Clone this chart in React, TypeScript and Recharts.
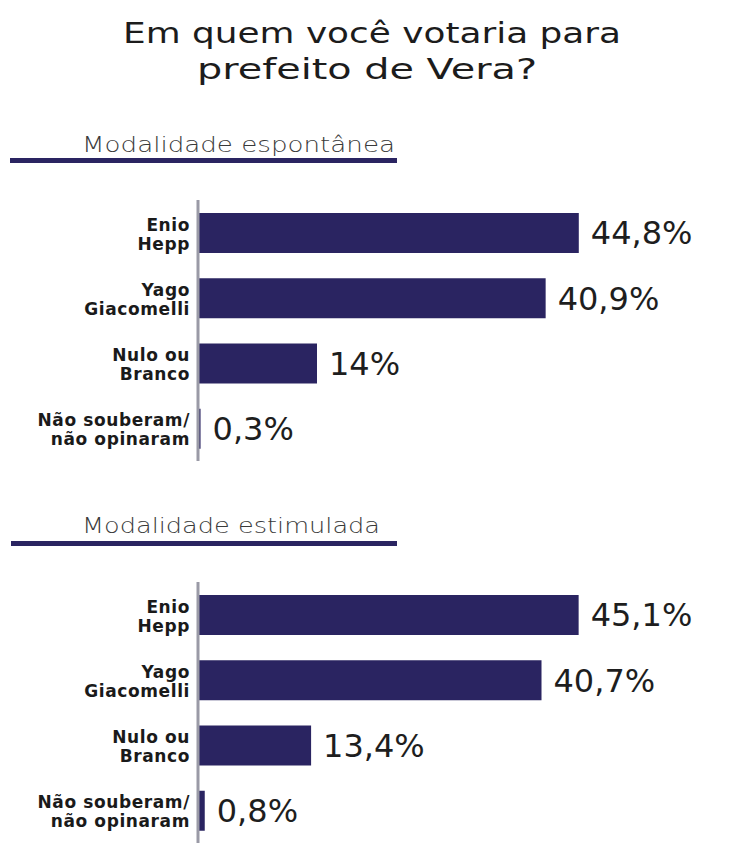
import React from 'react'
import { BarChart, Bar, XAxis, YAxis, LabelList } from 'recharts'

// categorias (quebra de linha com \n)
const categorias = ['Enio\nHepp', 'Yago\nGiacomelli', 'Nulo ou\nBranco', 'Não souberam/\nnão opinaram']
const espontanea = [44.8, 40.9, 14, 0.3]
const estimulada = [45.1, 40.7, 13.4, 0.8]

const titulo = ['Em quem você votaria para', 'prefeito de Vera?']
const subtitulos = ['Modalidade espontânea', 'Modalidade estimulada']

const NAVY = '#2a2461'
const FONT = '"DejaVu Sans", Verdana, sans-serif'

const fmt = (v: unknown) => String(v).replace('.', ',') + '%'

function CategoriaTick(props: any) {
  const { x, y, payload } = props
  const lines = String(payload.value).split('\n')
  return (
    <g>
      {lines.map((l, i) => (
        <text key={i} x={x} y={y - 2 + i * 19} textAnchor="end" fontFamily={FONT}
          fontWeight="bold" fontSize={17} fill="#1a1a1a" letterSpacing={0.6}>
          {l}
        </text>
      ))}
    </g>
  )
}

function Grafico({ valores, top, right }: { valores: number[]; top: number; right: number }) {
  const data = categorias.map((c, i) => ({ categoria: c, valor: valores[i] }))
  return (
    <div style={{ position: 'absolute', left: 0, top }}>
      <BarChart width={733} height={271} data={data} layout="vertical"
        margin={{ top: 5, right, bottom: 5, left: 0 }}>
        <XAxis type="number" domain={[0, 50]} hide />
        <YAxis type="category" dataKey="categoria" width={198} tickSize={0} tickMargin={8}
          axisLine={{ stroke: '#9a9aa6', strokeWidth: 3 }} tickLine={false}
          tick={<CategoriaTick />} interval={0} />
        <Bar dataKey="valor" fill={NAVY} barSize={40} isAnimationActive={false}>
          <LabelList dataKey="valor" position="right" offset={12} formatter={fmt}
            style={{ fontFamily: FONT, fontSize: 32, fill: '#1e1e1e' }} />
        </Bar>
      </BarChart>
    </div>
  )
}

export default function App() {
  return (
    <div style={{ position: 'absolute', left: 0, top: 0, width: 733, height: 853, background: '#fff', overflow: 'hidden' }}>
      <svg width={733} height={853} style={{ position: 'absolute', left: 0, top: 0 }}>
        <text x={123} y={43} fontFamily={FONT} fontSize={29} fill="#1c1c1c"
          textLength={498} lengthAdjust="spacingAndGlyphs">{titulo[0]}</text>
        <text x={197} y={79} fontFamily={FONT} fontSize={29} fill="#1c1c1c"
          textLength={340} lengthAdjust="spacingAndGlyphs">{titulo[1]}</text>

        <text x={82} y={152} fontFamily={FONT} fontSize={21} fontWeight={300} fill="#3a3a3a"
          textLength={313} lengthAdjust="spacingAndGlyphs">{subtitulos[0]}</text>
        <rect x={10} y={158} width={387} height={5} fill={NAVY} />

        <text x={82} y={533} fontFamily={FONT} fontSize={21} fontWeight={300} fill="#3a3a3a"
          textLength={298} lengthAdjust="spacingAndGlyphs">{subtitulos[1]}</text>
        <rect x={11} y={541} width={386} height={5} fill={NAVY} />
      </svg>

      <Grafico valores={espontanea} top={195} right={110} />
      <Grafico valores={estimulada} top={577} right={113} />
    </div>
  )
}
